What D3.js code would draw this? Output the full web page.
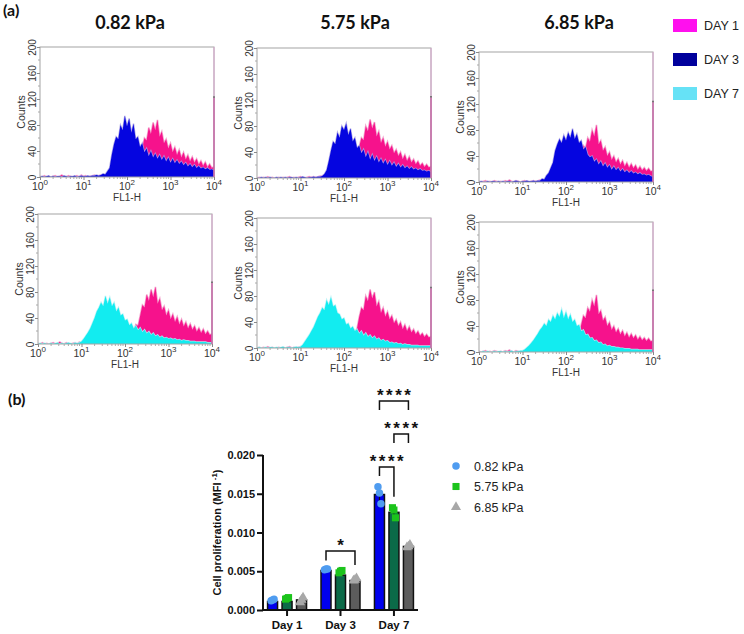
<!DOCTYPE html>
<html><head><meta charset="utf-8">
<script src="https://cdn.jsdelivr.net/npm/d3@7/dist/d3.min.js"></script>
<style>body{margin:0;background:#fff}svg{display:block}</style>
</head><body>
<svg id="c" width="744" height="634"></svg>
<script>
// ---------------- DATA ----------------
const stiffness = ["0.82 kPa", "5.75 kPa", "6.85 kPa"];
const days = ["Day 1", "Day 3", "Day 7"];
const histLegend = ["DAY 1", "DAY 3", "DAY 7"];
const histDecades = [1, 10, 100, 1000, 10000];
const histCountTicks = [0, 40, 80, 120, 160, 200];
const binsPerDecade = 20; // counts listed every 1/20 decade from 10^0 to 10^4

// Day 1 histograms (one per stiffness)
const day1_082 = [1,0,2,0,1,0,1,2,0,1,3,1,0,2,1,0,1,2,0,3,1,2,0,1,2,3,1,2,3,2,
  3,5,4,7,6,10,8,13,11,15,13,18,15,22,20,30,28,44,60,56,76,66,84,72,88,62,70,52,58,44,52,38,46,34,42,30,38,27,34,24,31,22,28,19,25,17,23,15,20,14,16];
const day1_575 = [0,1,0,1,0,2,0,1,0,0,1,0,1,0,1,2,0,1,0,1,2,1,0,1,2,1,2,1,2,3,
  3,5,4,7,6,10,9,12,11,15,13,17,15,20,18,24,30,48,62,58,80,72,90,76,86,64,72,54,62,48,56,44,50,38,44,34,40,29,36,26,33,24,29,21,26,19,23,17,21,16,18];
const day1_685 = [1,0,1,2,0,1,0,2,1,0,1,0,2,1,3,1,0,2,1,0,1,2,1,0,1,2,1,2,3,2,
  3,5,4,7,6,9,8,11,10,13,12,15,14,17,16,20,26,42,56,52,68,62,80,70,88,58,64,48,54,40,46,34,40,30,36,27,33,24,30,22,28,21,26,19,24,18,22,17,21,16,18];
// Day 3 histograms
const day3_082 = [0,1,0,1,2,0,1,0,1,1,0,2,1,0,1,1,2,0,1,2,1,1,2,1,2,2,3,2,
  3,5,4,9,14,34,50,62,58,80,72,94,78,90,68,82,58,62,46,52,38,44,32,40,30,36,28,34,26,32,24,30,22,28,21,26,20,24,18,22,16,20,15,19,14,17,13,15,12,14,11,12,10];
const day3_575 = [0,0,1,0,1,0,1,0,0,1,0,1,0,1,0,1,1,0,1,0,1,2,1,0,1,1,2,1,2,2,
  3,6,12,26,42,56,52,70,62,80,74,84,66,76,56,62,46,50,38,44,32,40,28,36,26,33,24,30,22,28,20,26,19,24,17,22,16,20,15,18,14,17,13,15,12,14,11,12,10,11,9];
const day3_685 = [0,1,0,0,1,0,1,1,0,1,0,1,0,1,1,0,1,2,1,0,1,1,2,1,1,2,1,2,
  2,5,4,10,14,22,30,48,58,66,60,72,64,76,68,82,66,74,60,64,50,54,42,38,40,31,35,27,32,24,29,22,26,19,24,18,22,16,20,15,18,14,17,13,15,12,14,11,12,10,11,9,8];
// Day 7 histograms
const day7_082 = [0,1,0,1,0,0,1,0,1,2,0,1,0,1,2,1,0,2,1,
  2,4,8,13,18,24,32,40,50,56,64,58,74,62,72,58,64,50,56,44,46,36,38,29,32,24,28,21,25,18,22,16,19,14,17,12,14,10,12,9,10,8,9,7,8,6,7,5,6,5,5,4,4,4,3,3,3,3,3,2,2,2];
const day7_575 = [0,1,0,0,1,0,1,1,0,1,0,1,2,0,1,1,0,1,2,1,
  2,5,10,15,20,26,32,40,48,54,62,58,74,66,78,64,66,54,52,44,46,36,38,30,33,26,29,22,26,19,23,17,20,15,18,13,15,11,13,10,11,8,9,7,8,6,7,5,6,5,5,4,4,4,4,3,3,3,3,3,3];
const day7_685 = [0,0,1,0,1,0,0,1,0,1,1,0,1,0,1,2,0,1,1,2,
  2,4,7,10,14,18,23,28,34,38,44,40,50,46,56,50,60,54,66,52,62,50,58,46,50,40,42,32,34,26,27,21,22,17,18,14,15,11,12,9,10,8,8,7,7,6,6,5,5,5,4,4,4,4,3,3,3,3,3,3,3];
// counts piled up in the last (off-scale) channel
const overflowTop = [123, 125, 124];
const overflowBottom = [95, 93, 95];

// (b) cell proliferation (MFI^-1)
const prolifTicks = [0, 0.005, 0.010, 0.015, 0.020];
const mean082 = [0.0011, 0.0051, 0.0149];
const mean575 = [0.0011, 0.0045, 0.0126];
const mean685 = [0.0013, 0.0038, 0.0082];
const pts082 = [[0.0012, 0.0013, 0.0014], [0.0052, 0.0053, 0.0053], [0.0159, 0.0151, 0.0137]];
const pts575 = [[0.0014, 0.0015, 0.0016], [0.0048, 0.0050, 0.0051], [0.0132, 0.0129, 0.0119]];
const pts685 = [[0.0010, 0.0013, 0.0016], [0.0038, 0.0039, 0.0041], [0.0081, 0.0082, 0.0084]];
// significance brackets: day, from-series, to-series, top, left leg end, right leg end (value units)
const sigDay = ["Day 3", "Day 7", "Day 7", "Day 7"];
const sigFrom = [0, 0, 1, 0];
const sigTo = [2, 1, 2, 2];
const sigTop = [0.0076, 0.01845, 0.0227, 0.02697];
const sigLeftEnd = [0.0064, 0.0173, 0.02155, 0.0258];
const sigRightEnd = [0.0058, 0.0146, 0.02155, 0.0258];
const sigLabel = ["*", "****", "****", "****"];

// ---------------- DRAW ----------------
const svg = d3.select("#c");
const SANS = "'Liberation Sans', Arial, sans-serif";
const TITLE = "Lato, 'Open Sans', sans-serif";

svg.append("text").attr("x", 3).attr("y", 16).attr("font-family", TITLE)
  .attr("font-weight", 700).attr("font-size", 16).attr("fill", "#111").text("(a)");
svg.append("text").attr("x", 8).attr("y", 405).attr("font-family", TITLE)
  .attr("font-weight", 700).attr("font-size", 16).attr("fill", "#111").text("(b)");

const titleX = [130, 355, 579];
stiffness.forEach((s, i) => {
  svg.append("text").attr("x", titleX[i]).attr("y", 29).attr("text-anchor", "middle")
    .attr("font-family", TITLE).attr("font-weight", 700).attr("font-size", 18)
    .attr("fill", "#111").text(s);
});

// legend (a)
const legSw = ["#ff10ee", "#00009c", "#66e2f6"];
histLegend.forEach((t, i) => {
  const yy = 19 + i * 34;
  svg.append("rect").attr("x", 673).attr("y", yy).attr("width", 24).attr("height", 13).attr("fill", legSw[i]);
  svg.append("text").attr("x", 704).attr("y", yy + 11).attr("font-family", SANS)
    .attr("font-size", 12.5).attr("fill", "#222").text(t);
});

const panelLeft = [[40, 257, 479], [38, 257, 479]];
const panelTop = [[47, 48, 52], [214, 218, 222]];
const PW = 174, PH = 130;

const PINK = "#f6128c", PINK_TIP = "#f4a6cf";
const BLUE = "#0505e0", BLUE_TIP = "#a9a0e6";
const CYAN = "#12ecf0", CYAN_TIP = "#b4f2f5";

let clipN = 0;
function hist(x0, y0, back, front, frontCol, frontTip, overflow) {
  const g = svg.append("g");
  const x = d3.scaleLog().domain([1, 1e4]).range([x0, x0 + PW]);
  const y = d3.scaleLinear().domain([0, 200]).range([y0 + PH, y0]);
  const xb = (d, i) => x(Math.pow(10, i / binsPerDecade));
  const area = d3.area().x(xb).y0(y(0)).y1(d => y(d));
  const line = d3.line().x(xb).y(d => y(d));
  const id = "clip" + (clipN++);
  svg.append("clipPath").attr("id", id).append("rect")
    .attr("x", x0).attr("y", y0).attr("width", PW).attr("height", PH);
  const pg = g.append("g").attr("clip-path", `url(#${id})`);
  pg.append("path").datum(back).attr("d", line).attr("fill", "none")
    .attr("stroke", PINK_TIP).attr("stroke-width", 1.6);
  pg.append("path").datum(back).attr("d", area).attr("fill", PINK);
  pg.append("path").datum(front).attr("d", line).attr("fill", "none")
    .attr("stroke", frontTip).attr("stroke-width", 1.4).attr("opacity", 0.9);
  pg.append("path").datum(front).attr("d", area).attr("fill", frontCol);

  // frame
  g.append("rect").attr("x", x0).attr("y", y0).attr("width", PW).attr("height", PH)
    .attr("fill", "none").attr("stroke", "#a4a4a4").attr("stroke-width", 1);
  g.append("line").attr("x1", x0 + PW).attr("x2", x0 + PW).attr("y1", y0).attr("y2", y(0))
    .attr("stroke", "#d9a6cf").attr("stroke-width", 1);
  g.append("line").attr("x1", x0 + PW).attr("x2", x0 + PW).attr("y1", y(overflow)).attr("y2", y(0))
    .attr("stroke", "#c0579a").attr("stroke-width", 1.2);
  g.append("line").attr("x1", x0 + PW - 1).attr("x2", x0 + PW + 1).attr("y1", y(overflow)).attr("y2", y(overflow))
    .attr("stroke", "#777").attr("stroke-width", 1.5);

  // y axis
  const ya = g.append("g").attr("transform", `translate(${x0},0)`)
    .call(d3.axisLeft(y).tickValues(histCountTicks).tickSize(3).tickFormat(d3.format("d")));
  ya.select(".domain").remove();
  ya.selectAll(".tick line").attr("stroke", "#888");
  ya.selectAll(".tick text").attr("transform", "rotate(-90)").attr("x", 0).attr("y", -4.5)
    .attr("dy", 0).attr("text-anchor", "middle").attr("font-family", SANS)
    .attr("font-size", 10).attr("fill", "#333");
  d3.range(20, 200, 40).forEach(v => {
    g.append("line").attr("x1", x0 - 2).attr("x2", x0).attr("y1", y(v)).attr("y2", y(v)).attr("stroke", "#aaa");
  });
  g.append("text").attr("transform", `translate(${x0 - 15},${y0 + PH / 2}) rotate(-90)`)
    .attr("text-anchor", "middle").attr("font-family", SANS).attr("font-size", 10.5)
    .attr("fill", "#333").text("Counts");

  // x axis
  const xa = g.append("g").attr("transform", `translate(0,${y(0)})`)
    .call(d3.axisBottom(x).tickValues(histDecades).tickSize(3).tickFormat(""));
  xa.select(".domain").remove();
  xa.selectAll(".tick line").attr("stroke", "#888");
  histDecades.slice(0, 4).forEach(dv => {
    d3.range(2, 10).forEach(k => {
      g.append("line").attr("x1", x(k * dv)).attr("x2", x(k * dv)).attr("y1", y(0)).attr("y2", y(0) + 2)
        .attr("stroke", "#aaa");
    });
  });
  histDecades.forEach(dv => {
    const t = g.append("text").attr("x", x(dv)).attr("y", y(0) + 12.5).attr("text-anchor", "middle")
      .attr("font-family", SANS).attr("font-size", 10.5).attr("fill", "#333");
    t.append("tspan").text("10");
    t.append("tspan").attr("dy", -5).attr("font-size", 8).text(Math.round(Math.log10(dv)));
  });
  g.append("text").attr("x", x0 + PW / 2).attr("y", y(0) + 23.5).attr("text-anchor", "middle")
    .attr("font-family", SANS).attr("font-size", 10).attr("fill", "#333").text("FL1-H");
}

const day1 = [day1_082, day1_575, day1_685];
const day3 = [day3_082, day3_575, day3_685];
const day7 = [day7_082, day7_575, day7_685];
for (let c = 0; c < 3; c++) {
  hist(panelLeft[0][c], panelTop[0][c], day1[c], day3[c], BLUE, BLUE_TIP, overflowTop[c]);
  hist(panelLeft[1][c], panelTop[1][c], day1[c], day7[c], CYAN, CYAN_TIP, overflowBottom[c]);
}

// ---------------- (b) bar chart ----------------
const means = [mean082, mean575, mean685];
const pts = [pts082, pts575, pts685];
const barFill = ["#0000ee", "#0b6a48", "#5c5c5c"];
const ptFill = ["#4f9cf0", "#1cc41c", "#a8a8a8"];

const bx = d3.scaleBand().domain(days).range([263, 418]).paddingInner(0.1).paddingOuter(0);
const bi = d3.scaleBand().domain(stiffness).range([0, bx.bandwidth()]).paddingInner(0.31).paddingOuter(0.315);
const by = d3.scaleLinear().domain([0, 0.020]).range([610, 455]);
const cx = (di, si) => bx(days[di]) + bi(stiffness[si]) + bi.bandwidth() / 2;

const gb = svg.append("g");
stiffness.forEach((s, si) => {
  days.forEach((d, di) => {
    gb.append("rect").attr("x", bx(d) + bi(s)).attr("y", by(means[si][di]))
      .attr("width", bi.bandwidth()).attr("height", by(0) - by(means[si][di]))
      .attr("fill", barFill[si]).attr("stroke", "#111").attr("stroke-width", 1.5);
  });
});
// error bars (mean ± SD of replicate points)
stiffness.forEach((s, si) => {
  days.forEach((d, di) => {
    const m = d3.mean(pts[si][di]), sd = d3.deviation(pts[si][di]);
    const xx = cx(di, si);
    gb.append("line").attr("x1", xx).attr("x2", xx).attr("y1", by(m - sd)).attr("y2", by(m + sd))
      .attr("stroke", "#111").attr("stroke-width", 1.2);
  });
});
// points
const sym = [d3.symbolCircle, d3.symbolSquare, d3.symbolTriangle];
const symSize = [44, 50, 44];
stiffness.forEach((s, si) => {
  days.forEach((d, di) => {
    pts[si][di].forEach((v, k) => {
      gb.append("path").attr("d", d3.symbol().type(sym[si]).size(symSize[si])())
        .attr("transform", `translate(${cx(di, si) + (k - 1) * 1.5},${by(v)})`)
        .attr("fill", ptFill[si]);
    });
  });
});

// axes
const yAx = gb.append("g").attr("transform", "translate(263,0)")
  .call(d3.axisLeft(by).tickValues(prolifTicks).tickSize(6).tickFormat(d3.format(".3f")));
yAx.select(".domain").attr("stroke", "#111").attr("stroke-width", 2).attr("d", `M0,${by(0.020)}V${by(0)}`);
yAx.selectAll(".tick line").attr("stroke", "#111").attr("stroke-width", 2);
yAx.selectAll(".tick text").attr("font-family", SANS).attr("font-weight", 700).attr("font-size", 11).attr("fill", "#111").attr("x", -8);

const xAx = gb.append("g").attr("transform", `translate(0,${by(0)})`)
  .call(d3.axisBottom(bx).tickSize(6));
xAx.select(".domain").attr("stroke", "#111").attr("stroke-width", 2).attr("d", "M262,0H418");
xAx.selectAll(".tick line").attr("stroke", "#111").attr("stroke-width", 2);
xAx.selectAll(".tick text").attr("font-family", SANS).attr("font-weight", 700).attr("font-size", 11.5)
  .attr("fill", "#111").attr("y", 11).attr("dy", "0.71em");

const yl = gb.append("text").attr("transform", `translate(221,${(by(0) + by(0.02)) / 2}) rotate(-90)`)
  .attr("text-anchor", "middle").attr("font-family", SANS).attr("font-weight", 700)
  .attr("font-size", 11).attr("fill", "#111");
yl.append("tspan").text("Cell proliferation (MFI");
yl.append("tspan").attr("dy", -4).attr("font-size", 8).text(" -1");
yl.append("tspan").attr("dy", 4).text(")");

// significance brackets
sigDay.forEach((d, i) => {
  const di = days.indexOf(d);
  const x1 = cx(di, sigFrom[i]), x2 = cx(di, sigTo[i]);
  gb.append("path")
    .attr("d", `M${x1},${by(sigLeftEnd[i])}V${by(sigTop[i])}H${x2}V${by(sigRightEnd[i])}`)
    .attr("fill", "none").attr("stroke", "#111").attr("stroke-width", 1.5);
  gb.append("text").attr("x", (x1 + x2) / 2 + 1.25).attr("y", by(sigTop[i])).attr("text-anchor", "middle")
    .attr("font-family", SANS).attr("font-weight", 700).attr("font-size", 17)
    .attr("letter-spacing", 2.5).attr("fill", "#111")
    .text(sigLabel[i]);
});

// legend (b)
stiffness.forEach((s, si) => {
  const yy = 466 + si * 20.5;
  gb.append("path").attr("d", d3.symbol().type(sym[si]).size(symSize[si])())
    .attr("transform", `translate(456,${yy})`).attr("fill", ptFill[si]);
  gb.append("text").attr("x", 474).attr("y", yy + 4.5).attr("font-family", SANS)
    .attr("font-size", 12.5).attr("fill", "#222").text(s);
});
</script>
</body></html>
